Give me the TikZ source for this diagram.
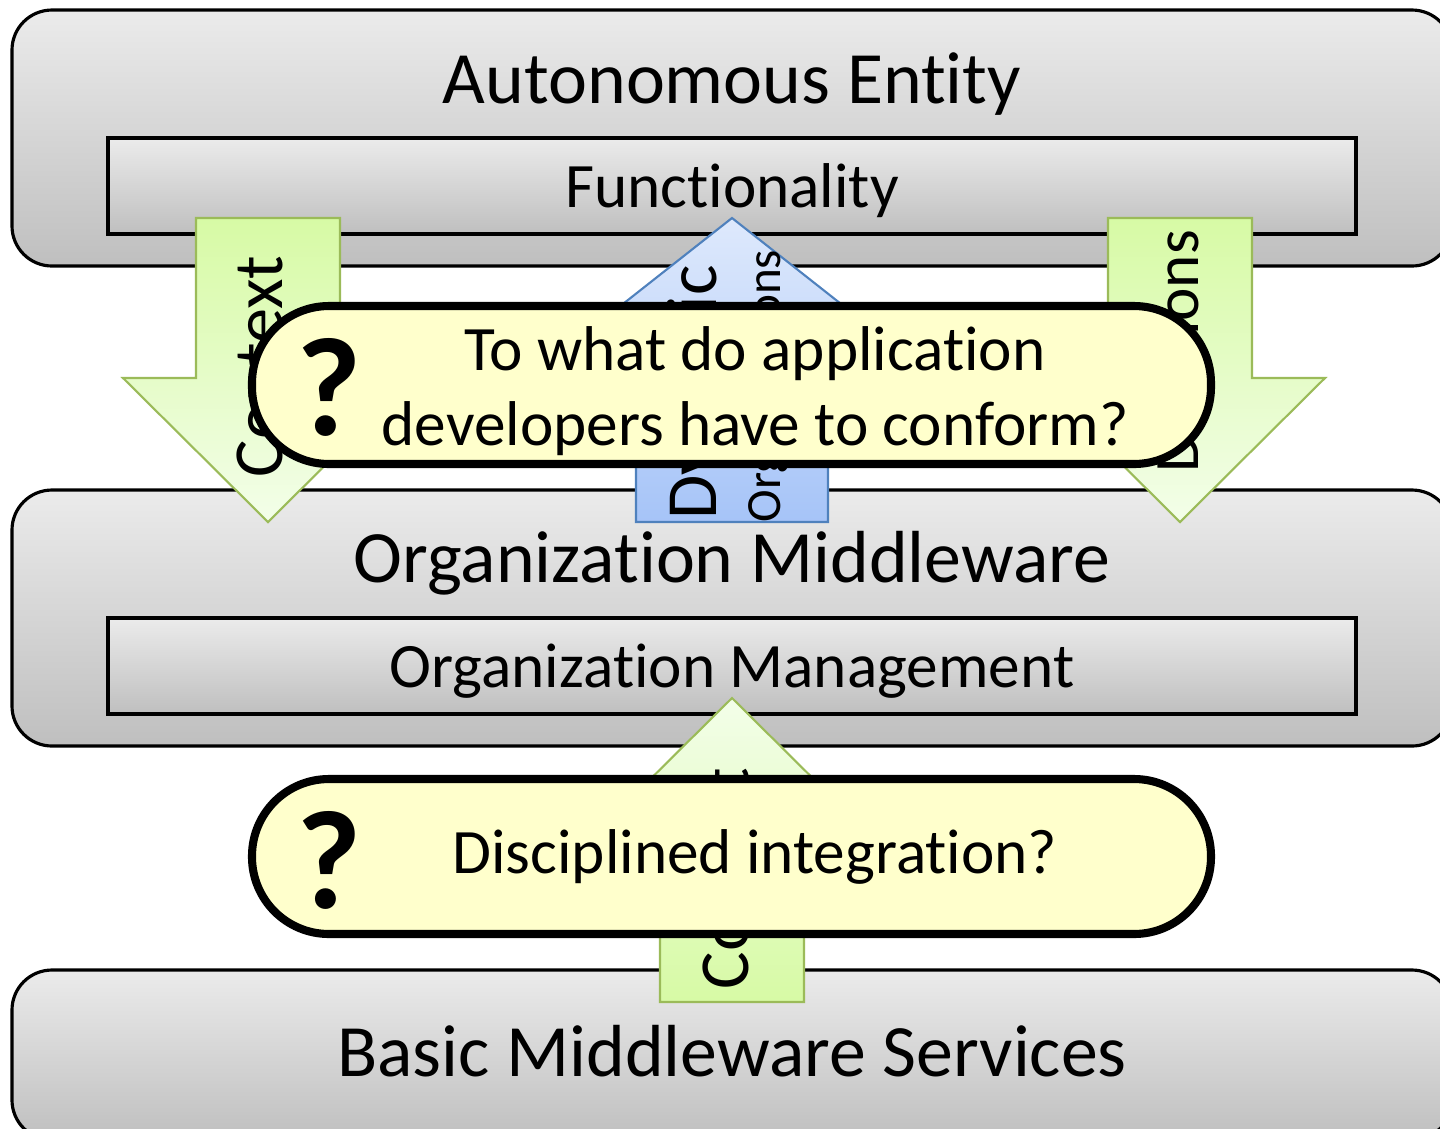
\documentclass[tikz,border=0pt]{standalone}
\usepackage{fontspec}
\setmainfont{Carlito}[RawFeature={-liga;-clig;-dlig;-calt}]
\definecolor{boxtop}{RGB}{235,235,235}
\definecolor{boxbot}{RGB}{191,191,191}
\definecolor{leafdark}{RGB}{215,250,165}
\definecolor{leaflight}{RGB}{243,254,233}
\definecolor{leafline}{RGB}{155,187,89}
\definecolor{skydark}{RGB}{166,196,248}
\definecolor{skylight}{RGB}{222,233,252}
\definecolor{skyline}{RGB}{79,129,189}
\definecolor{askfill}{RGB}{255,255,204}
\tikzset{
  layerbox/.style={draw,line width=0.9pt,rounded corners=4mm,top color=boxtop,bottom color=boxbot,minimum width=144mm},
  partbox/.style={draw,line width=0.9pt,top color=boxtop,bottom color=boxbot,minimum width=124.8mm,minimum height=9.6mm,inner sep=0pt,text height=16pt,text depth=3.6pt,font=\fontsize{18}{21}\selectfont},
  titletext/.style={inner sep=0pt,anchor=base,font=\fontsize{21}{25}\selectfont},
  leafarrow/.style={draw=leafline,line width=0.6pt},
  skyarrow/.style={draw=skyline,line width=0.6pt,top color=skylight,bottom color=skydark},
  arrowtext/.style={inner sep=0pt,rotate=90,anchor=base west},
  askbubble/.style={draw,line width=2.3pt,fill=askfill,rounded corners=7.7mm,minimum width=95.9mm},
  asktext/.style={inner sep=0pt,anchor=base,align=center,font=\fontsize{18}{21.3}\selectfont},
  qmark/.style={inner sep=0pt,font=\bfseries\fontsize{40}{48}\selectfont}
}
\begin{document}
\begin{tikzpicture}[x=1mm,y=-1mm]
  \useasboundingbox (0,0) rectangle (144,112.8);
  \clip (0,0) rectangle (144,112.8);
  % layers
  \node[layerbox,minimum height=25.6mm] (entity) at (73.2,13.8) {};
  \node[layerbox,minimum height=25.6mm] (orgmw) at (73.2,61.8) {};
  \node[layerbox,minimum height=17mm] (basic) at (73.2,105.5) {};
  \node[partbox] (func) at (73.2,18.6) {Functionality};
  \node[partbox] (orgmgmt) at (73.2,66.6) {Organization Management};
  \node[titletext] (entityT) at (73.2,10.3) {Autonomous Entity};
  \node[titletext] (orgmwT) at (73.2,58.2) {Organization Middleware};
  \node[titletext] (basicT) at (73.2,107.6) {Basic Middleware Services};
  % block arrows
  \coordinate (ctxTop) at (26.8,21.8);
  \coordinate (decTop) at (118.0,21.8);
  \coordinate (dynTip) at (73.2,21.8);
  \coordinate (ctxTip) at (73.2,69.8);
  \draw[leafarrow,top color=leafdark,bottom color=leaflight] (ctxTop) ++(-7.2,0) -- ++(14.4,0) -- ++(0,16) -- ++(7.3,0) -- ++(-14.5,14.4) -- ++(-14.5,-14.4) -- ++(7.3,0) -- cycle;
  \draw[leafarrow,top color=leafdark,bottom color=leaflight] (decTop) ++(-7.2,0) -- ++(14.4,0) -- ++(0,16) -- ++(7.3,0) -- ++(-14.5,14.4) -- ++(-14.5,-14.4) -- ++(7.3,0) -- cycle;
  \draw[skyarrow] (dynTip) -- ++(17,13.4) -- ++(-7.4,0) -- ++(0,17) -- ++(-19.2,0) -- ++(0,-17) -- ++(-7.4,0) -- cycle;
  \draw[leafarrow,top color=leaflight,bottom color=leafdark] (ctxTip) -- ++(14.5,14.4) -- ++(-7.3,0) -- ++(0,16) -- ++(-14.4,0) -- ++(0,-16) -- ++(-7.3,0) -- cycle;
  \node[arrowtext,font=\fontsize{20}{24}\selectfont] (ctxL) at (28.2,47.8) {Context};
  \node[arrowtext,font=\fontsize{18}{22}\selectfont] (dec) at (119.8,47.3) {Decisions};
  \node[arrowtext,font=\fontsize{20.5}{24}\selectfont] (dyn) at (71.6,52.0) {Dynamic};
  \node[arrowtext,font=\fontsize{14}{17}\selectfont] (orgs) at (78.0,52.3) {Organizations};
  \node[arrowtext,font=\fontsize{20}{24}\selectfont] (ctxB) at (74.8,99.0) {Context};
  % question bubbles
  \node[askbubble,minimum height=15.8mm] (ask1) at (73.15,38.5) {};
  \node[askbubble,minimum height=15.5mm] (ask2) at (73.15,85.65) {};
  \node[qmark] (q1) at (32.9,38.7) {?};
  \node[qmark] (q2) at (32.9,86.0) {?};
  \node[asktext] (ask1T) at (75.5,44.5) {To what do application\\developers have to conform?};
  \node[asktext] (ask2T) at (75.5,87.3) {Disciplined integration?};
\end{tikzpicture}
\end{document}
